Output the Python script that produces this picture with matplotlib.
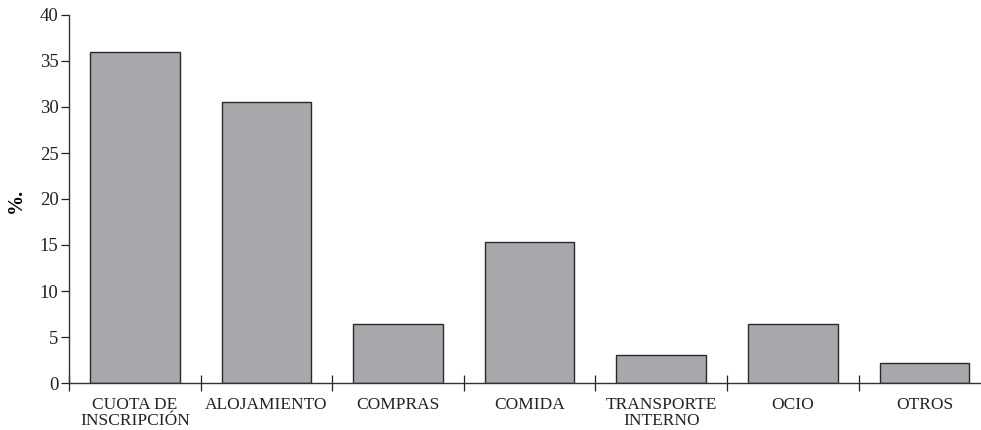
import matplotlib
matplotlib.use("Agg")
import matplotlib.pyplot as plt
import numpy as np

categories = ["CUOTA DE\nINSCRIPCIÓN", "ALOJAMIENTO", "COMPRAS", "COMIDA",
              "TRANSPORTE\nINTERNO", "OCIO", "OTROS"]
values = [36.0, 30.5, 6.4, 15.3, 3.0, 6.4, 2.2]
yticks = [0, 5, 10, 15, 20, 25, 30, 35, 40]

plt.rcParams['font.family'] = ['Liberation Serif', 'DejaVu Serif']

W, H = 981, 430
fig = plt.figure(figsize=(W / 100, H / 100), dpi=100)
left, right, top, bottom = 69, 981, 15, 383
ax = fig.add_axes([left / W, (H - bottom) / H, (right - left) / W, (bottom - top) / H])

x = np.arange(len(categories))
ax.bar(x, values, width=0.68, color='#a7a8ab', edgecolor='#2a2a2a', linewidth=1.0, zorder=2)

ax.set_ylim(0, 40)
ax.set_xlim(-0.5, (right - left) / 131.6 - 0.5)
ax.set_yticks(yticks)
ax.set_yticklabels([str(t) for t in yticks], fontsize=13.5)
ax.tick_params(axis='y', direction='out', length=6, width=0.9, pad=1.5, colors='#222222')

ax.set_xticks(x)
ax.set_xticklabels(categories, fontsize=12.5, linespacing=1.0)
ax.tick_params(axis='x', which='major', length=0, pad=10, colors='#222222')
ax.set_xticks(np.arange(-0.5, len(categories) - 0.5, 1.0), minor=True)
ax.tick_params(axis='x', which='minor', direction='inout', length=11, width=0.9, color='#222222')

for s in ['top', 'right']:
    ax.spines[s].set_visible(False)
for s in ['left', 'bottom']:
    ax.spines[s].set_linewidth(1.0)
    ax.spines[s].set_color('#333333')

fig.text(16 / W, (H - 200) / H, "%.", rotation=90, fontsize=14.5, fontweight='bold',
         ha='center', va='center')

fig.savefig("out.png", dpi=100)
